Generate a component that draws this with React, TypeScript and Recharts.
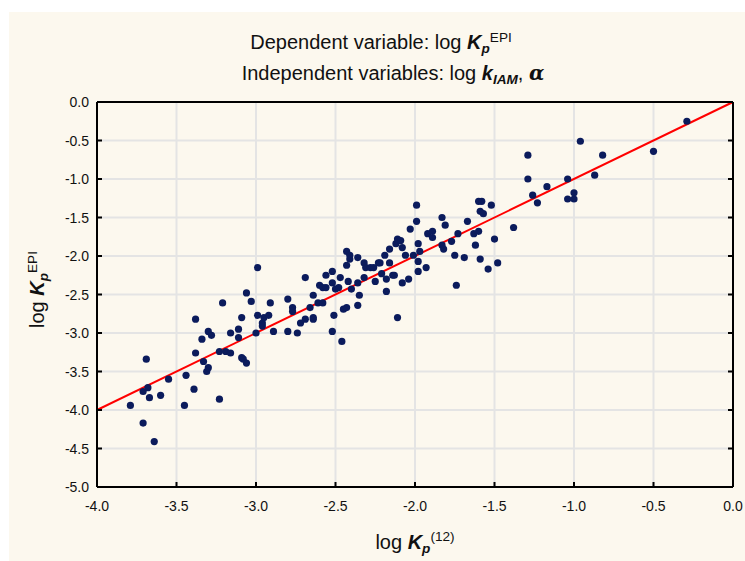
import React from "react";
import {
  ScatterChart,
  Scatter,
  XAxis,
  YAxis,
  CartesianGrid,
  ReferenceLine,
} from "recharts";

// ─── Data ─────────────────────────────────────────────────────────────────────

// log Kp(12) — x values of the points
const kp12 = [
  -3.79, -3.71, -3.64, -3.69, -3.71, -3.68, -3.67, -3.6, -3.55, -3.45,
  -3.44, -3.39, -3.38, -3.38, -3.34, -3.33, -3.31, -3.3, -3.3, -3.28,
  -3.23, -3.23, -3.21, -3.19, -3.16, -3.16, -3.11, -3.11, -3.09, -3.09,
  -3.08, -3.06, -3.06, -3.03, -3.0, -2.99, -2.99, -2.96, -2.96, -2.95,
  -2.92, -2.91, -2.89, -2.8, -2.8, -2.77, -2.77, -2.74, -2.72, -2.69,
  -2.69, -2.66, -2.64, -2.64, -2.64, -2.61, -2.6, -2.58, -2.58, -2.56,
  -2.56, -2.52, -2.52, -2.51, -2.52, -2.5, -2.48, -2.47, -2.46, -2.45,
  -2.43, -2.43, -2.43, -2.42, -2.41, -2.41, -2.4, -2.36, -2.36, -2.36,
  -2.35, -2.32, -2.32, -2.31, -2.28, -2.26, -2.25, -2.23, -2.22, -2.21,
  -2.19, -2.18, -2.18, -2.16, -2.16, -2.14, -2.13, -2.12, -2.11, -2.11,
  -2.09, -2.08, -2.08, -2.06, -2.04, -2.03, -1.99, -1.99, -2.01, -1.98,
  -1.98, -1.98, -1.97, -1.93, -1.92, -1.89, -1.89, -1.83, -1.83, -1.82,
  -1.81, -1.77, -1.75, -1.74, -1.73, -1.69, -1.67, -1.63, -1.62, -1.6,
  -1.6, -1.58, -1.59, -1.59, -1.57, -1.54, -1.52, -1.5, -1.48, -1.38,
  -1.29, -1.29, -1.26, -1.23, -1.17, -1.04, -1.04, -1.0, -1.0, -0.96,
  -0.87, -0.82, -0.5, -0.29,
];

// log Kp(EPI) — y values of the points
const kpEpi = [
  -3.94, -4.17, -4.41, -3.34, -3.76, -3.71, -3.84, -3.81, -3.6, -3.94,
  -3.55, -3.73, -2.82, -3.26, -3.08, -3.37, -3.5, -3.45, -2.98, -3.03,
  -3.86, -3.24, -2.61, -3.24, -3.0, -3.26, -2.95, -3.06, -2.8, -3.32,
  -3.34, -3.39, -2.48, -2.59, -3.0, -2.77, -2.15, -2.87, -2.91, -2.8,
  -2.77, -2.61, -2.98, -2.56, -2.98, -2.67, -2.72, -3.0, -2.87, -2.28,
  -2.82, -2.67, -2.51, -2.8, -2.82, -2.61, -2.38, -2.41, -2.61, -2.25,
  -2.41, -2.2, -2.35, -2.77, -2.98, -2.43, -2.41, -2.28, -3.11, -2.69,
  -2.67, -1.94, -2.12, -2.33, -1.99, -2.04, -2.43, -2.02, -2.35, -2.64,
  -2.51, -2.09, -2.28, -2.15, -2.15, -2.15, -2.33, -2.09, -2.09, -2.23,
  -1.99, -2.3, -2.46, -1.91, -2.09, -2.25, -2.25, -1.84, -1.78, -2.8,
  -1.8, -1.89, -2.35, -1.99, -2.3, -1.65, -1.34, -1.55, -1.99, -1.84,
  -2.07, -2.2, -1.94, -2.15, -1.71, -1.68, -1.76, -1.5, -1.86, -1.91,
  -1.6, -1.81, -1.99, -2.38, -1.71, -2.02, -1.55, -1.71, -1.86, -1.68,
  -1.29, -1.29, -2.04, -1.42, -1.45, -2.17, -1.34, -1.78, -2.09, -1.63,
  -0.69, -1.0, -1.21, -1.31, -1.1, -1.0, -1.26, -1.18, -1.26, -0.51,
  -0.95, -0.69, -0.64, -0.25,
];

// fitted regression line end points
const fitX = [-4.0, 0.0];
const fitY = [-4.0, 0.0];

const xTicks = [-4.0, -3.5, -3.0, -2.5, -2.0, -1.5, -1.0, -0.5, 0.0];
const yTicks = [-5.0, -4.5, -4.0, -3.5, -3.0, -2.5, -2.0, -1.5, -1.0, -0.5, 0.0];

const points = kp12.map((x, i) => ({ x, y: kpEpi[i] }));

// ─── Styles ───────────────────────────────────────────────────────────────────

const FONT = '"Liberation Sans", Arial, Helvetica, sans-serif';
const CREAM = "#FCF8EE";
const DOT = "#0B1B5C";
const TICK_LEN = 5;

const fmt = (v: number) => (Math.abs(v) < 1e-9 ? "0.0" : v.toFixed(1));

// ─── Ticks (inward marks + labels) ────────────────────────────────────────────

// eslint-disable-next-line @typescript-eslint/no-explicit-any
function BottomTick(props: any) {
  const { x, y, payload } = props;
  return (
    <g>
      <line x1={x} x2={x} y1={y - 19} y2={y - 19 - TICK_LEN} stroke="#000" strokeWidth={2} />
      <text x={x} y={y} dy="0.36em" textAnchor="middle" fontSize={14} fill="#111" fontFamily={FONT}>
        {fmt(payload.value)}
      </text>
    </g>
  );
}

// eslint-disable-next-line @typescript-eslint/no-explicit-any
function LeftTick(props: any) {
  const { x, y, payload } = props;
  return (
    <g>
      <line x1={x + 8} x2={x + 8 + TICK_LEN} y1={y} y2={y} stroke="#000" strokeWidth={2} />
      <text x={x} y={y} dy="0.36em" textAnchor="end" fontSize={14} fill="#111" fontFamily={FONT}>
        {fmt(payload.value)}
      </text>
    </g>
  );
}

// eslint-disable-next-line @typescript-eslint/no-explicit-any
function TopTick(props: any) {
  const { x, y } = props;
  return <line x1={x} x2={x} y1={y} y2={y + TICK_LEN} stroke="#000" strokeWidth={2} />;
}

// eslint-disable-next-line @typescript-eslint/no-explicit-any
function RightTick(props: any) {
  const { x, y } = props;
  return <line x1={x} x2={x - TICK_LEN} y1={y} y2={y} stroke="#000" strokeWidth={2} />;
}

// eslint-disable-next-line @typescript-eslint/no-explicit-any
function Dot(props: any) {
  const { cx, cy } = props;
  if (cx === undefined || cy === undefined) return null;
  return <circle cx={cx} cy={cy} r={3.6} fill={DOT} />;
}

// ─── Text bits ────────────────────────────────────────────────────────────────

const bi: React.CSSProperties = { fontWeight: 700, fontStyle: "italic" };
const sub: React.CSSProperties = {
  fontSize: "0.68em",
  position: "relative",
  top: "0.3em",
  fontWeight: 700,
  fontStyle: "italic",
};
const sup: React.CSSProperties = { fontSize: "0.68em", position: "relative", top: "-0.55em" };

// ─── Component ────────────────────────────────────────────────────────────────

export default function App() {
  return (
    <div
      style={{
        position: "absolute",
        left: 0,
        top: 0,
        width: 745,
        height: 561,
        background: "#fff",
        fontFamily: FONT,
        color: "#111",
        overflow: "hidden",
      }}
    >
      {/* cream panel */}
      <div style={{ position: "absolute", left: 9, top: 12, right: 0, bottom: 0, background: CREAM }} />

      {/* titles */}
      <div
        style={{
          position: "absolute",
          left: 0,
          width: 762,
          top: 31,
          textAlign: "center",
          fontSize: 20,
          lineHeight: "22px",
          whiteSpace: "nowrap",
        }}
      >
        Dependent variable: log <span style={bi}>K</span>
        <span style={sub}>p</span>
        <span style={sup}>EPI</span>
      </div>
      <div
        style={{
          position: "absolute",
          left: 0,
          width: 786,
          top: 62,
          textAlign: "center",
          fontSize: 20,
          lineHeight: "22px",
          whiteSpace: "nowrap",
        }}
      >
        Independent variables: log <span style={bi}>k</span>
        <span style={sub}>IAM</span>,{" "}
        <span style={{ fontStyle: "italic", fontWeight: 700, fontFamily: "DejaVu Serif, serif" }}>α</span>
      </div>

      <div style={{ position: "absolute", left: 0, top: 0 }}>
        <ScatterChart
          width={745}
          height={561}
          margin={{ top: 100, right: 10, bottom: 44, left: 47 }}
        >
          <CartesianGrid stroke="#E4E4E4" strokeWidth={2} horizontalValues={yTicks} verticalValues={xTicks} />
          <XAxis
            type="number"
            dataKey="x"
            domain={[-4, 0]}
            ticks={xTicks}
            allowDataOverflow
            height={30}
            tickSize={0}
            tickMargin={19}
            tickLine={false}
            axisLine={{ stroke: "#000", strokeWidth: 2 }}
            tick={<BottomTick />}
            interval={0}
          />
          <XAxis
            xAxisId="top"
            orientation="top"
            type="number"
            domain={[-4, 0]}
            ticks={xTicks}
            allowDataOverflow
            height={2}
            tickSize={0}
            tickMargin={0}
            tickLine={false}
            axisLine={{ stroke: "#000", strokeWidth: 2 }}
            tick={<TopTick />}
            interval={0}
          />
          <YAxis
            type="number"
            dataKey="y"
            domain={[-5, 0]}
            ticks={yTicks}
            allowDataOverflow
            width={50}
            tickSize={0}
            tickMargin={8}
            tickLine={false}
            axisLine={{ stroke: "#000", strokeWidth: 2 }}
            tick={<LeftTick />}
            interval={0}
          />
          <YAxis
            yAxisId="right"
            orientation="right"
            type="number"
            domain={[-5, 0]}
            ticks={yTicks}
            allowDataOverflow
            width={2}
            tickSize={0}
            tickMargin={0}
            tickLine={false}
            axisLine={{ stroke: "#000", strokeWidth: 2 }}
            tick={<RightTick />}
            interval={0}
          />
          <Scatter data={points} shape={<Dot />} isAnimationActive={false} />
          <ReferenceLine
            segment={[
              { x: fitX[0], y: fitY[0] },
              { x: fitX[1], y: fitY[1] },
            ]}
            stroke="#FF0000"
            strokeWidth={2}
          />
        </ScatterChart>
      </div>

      {/* axis titles */}
      <div
        style={{
          position: "absolute",
          left: 415 - 100,
          width: 200,
          top: 531,
          textAlign: "center",
          fontSize: 20,
          lineHeight: "22px",
          whiteSpace: "nowrap",
        }}
      >
        log <span style={bi}>K</span>
        <span style={sub}>p</span>
        <span style={{ ...sup, top: "-0.6em" }}>(12)</span>
      </div>
      <div
        style={{
          position: "absolute",
          left: 38 - 100,
          width: 200,
          top: 288 - 11,
          textAlign: "center",
          fontSize: 20,
          lineHeight: "22px",
          whiteSpace: "nowrap",
          transform: "rotate(-90deg)",
        }}
      >
        log <span style={bi}>K</span>
        <span style={sub}>p</span>
        <span style={sup}>EPI</span>
      </div>
    </div>
  );
}
